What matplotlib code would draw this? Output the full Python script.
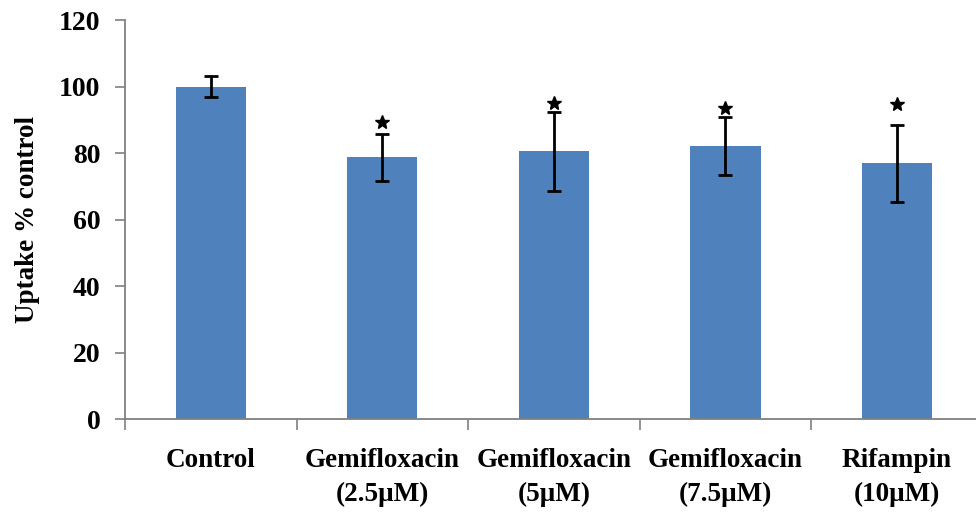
import matplotlib
matplotlib.use('Agg')
import matplotlib.pyplot as plt
import numpy as np

# --- DATA ---
categories = ['Control', 'Gemifloxacin\n(2.5\u03bcM)', 'Gemifloxacin\n(5\u03bcM)',
              'Gemifloxacin\n(7.5\u03bcM)', 'Rifampin\n(10\u03bcM)']
uptake = [100, 78.7, 80.5, 82.1, 76.9]
errors = [3.1, 7.0, 11.8, 8.8, 11.5]
star_y = [None, 89.3, 95.0, 93.6, 94.6]
yticks = [0, 20, 40, 60, 80, 100, 120]

plt.rcParams['font.family'] = ['Liberation Serif', 'DejaVu Serif']
plt.rcParams['font.weight'] = 'bold'

fig = plt.figure(figsize=(9.76, 5.13), dpi=100)
ax = fig.add_axes([0.128, 0.183, 0.879, 0.778])

x = np.arange(len(categories))
ax.bar(x, uptake, width=0.41, color='#4F81BD', zorder=2)
ax.errorbar(x, uptake, yerr=errors, fmt='none', ecolor='black',
            elinewidth=2, capsize=5, capthick=2, zorder=3)

# significance stars
for xi, sy in zip(x, star_y):
    if sy is not None:
        ax.plot(xi, sy, marker='*', color='black', markersize=10, zorder=4)

ax.set_xlim(-0.5, len(categories) - 0.5)
ax.set_ylim(0, 120)
ax.set_yticks(yticks)
ax.set_yticklabels([str(t) for t in yticks], fontsize=20, fontweight='bold')

# ticks at category boundaries, labels at centres
ax.set_xticks(np.arange(len(categories) + 1) - 0.5)
ax.set_xticklabels([])
ax.set_xticks(x, minor=True)
ax.set_xticklabels(categories, minor=True, fontsize=19.5, fontweight='bold',
                   linespacing=1.45)
ax.tick_params(axis='x', which='minor', length=0, pad=21)
ax.tick_params(axis='x', which='major', length=8, color='#808080', width=1.2)
ax.tick_params(axis='y', length=7.5, color='#808080', width=1.2, pad=10)

ax.set_ylabel('Uptake % control', fontsize=19.5, fontweight='bold', labelpad=14)

for s in ['top', 'right']:
    ax.spines[s].set_visible(False)
for s in ['left', 'bottom']:
    ax.spines[s].set_color('#808080')
    ax.spines[s].set_linewidth(1.3)

fig.savefig('out.png', dpi=100)
